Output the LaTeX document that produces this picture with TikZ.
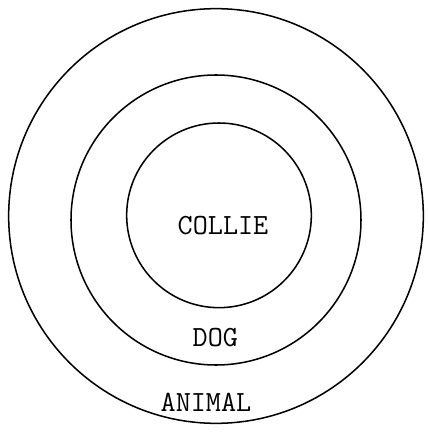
\documentclass[tikz,border=0pt]{standalone}
\usetikzlibrary{positioning}

\begin{document}
\begin{tikzpicture}[
    ring/.style={circle, draw=black, line width=1.3pt, inner sep=0pt, minimum size=#1},
    label/.style={font=\ttfamily\fontsize{25}{30}\selectfont, inner sep=0pt},
]

% Frame
\useasboundingbox (-6.48, 6.48) rectangle (6.33, -6.51);

% Rings (outer to inner)
\node[ring=12.44cm] (animal) at (0, 0) {};
\node[ring=8.70cm] (dog) at (0, -0.12) {};
\node[ring=5.54cm] (collie) at (0.09, 0.02) {};

% Labels
\node[label] (collietxt) at (0.21, -0.30) {COLLIE};
\node[label] (dogtxt) at (-0.02, -3.65) {DOG};
\node[label] (animaltxt) at (-0.30, -5.60) {ANIMAL};

\end{tikzpicture}
\end{document}
